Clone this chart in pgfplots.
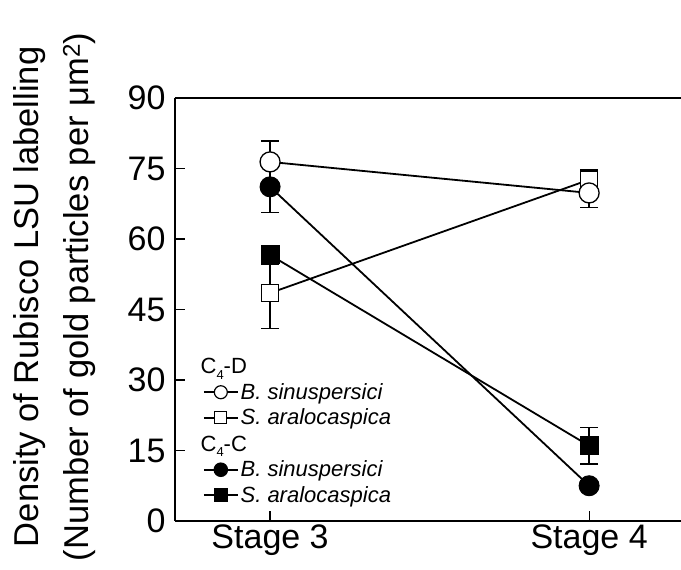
\documentclass[border=0pt]{standalone}
\usepackage{fontspec}
\setmainfont{Liberation Sans}
\usepackage{pgfplots}
\pgfplotsset{compat=1.18}
\newcommand{\sub}[1]{\raisebox{-0.45ex}{\fontsize{13}{13}\selectfont #1}}
\begin{document}
\begin{tikzpicture}
\begin{axis}[
  scale only axis, width=506pt, height=423pt,
  xmin=-0.298, xmax=1.288, ymin=0, ymax=90,
  axis lines=left, axis line style={-, line width=1.2pt},
  xtick={0,1}, xticklabels={Stage 3, Stage 4},
  ytick={0,15,...,90},
  tick align=inside, major tick length=10pt,
  tick style={line width=1.2pt, black},
  /pgf/number format/assume math mode=true,
  ticklabel style={font=\fontsize{34}{40}\selectfont},
  yticklabel style={xshift=-6pt},
  ylabel={Density of Rubisco LSU labelling\\(Number of gold particles per μm\textsuperscript{2})},
  ylabel style={align=center, font=\fontsize{34.5}{50}\selectfont, at={(axis description cs:-0.237,0.53)}, anchor=center},
  legend style={at={(rel axis cs:0.055,0.035)}, anchor=south west, draw=none, fill=none,
    font=\fontsize{22}{26}\selectfont, row sep=4pt, inner sep=0pt},
  legend cell align=left,
  legend image code/.code={\draw[mark repeat=2,mark phase=2,#1] plot coordinates {(0pt,0pt) (17pt,0pt) (34pt,0pt)};},
  every axis plot/.append style={line width=1.8pt, black},
  error bars/error bar style={line width=1.5pt},
  error bars/error mark options={rotate=90, mark size=9pt, line width=1.5pt},
]
% filled circle: B. sinuspersici C4-C
\addplot[forget plot, mark=*, mark size=10pt, mark options={fill=black, line width=1pt},
  error bars/.cd, y dir=both, y explicit]
  coordinates {(0,71.1) +- (0,5.5) (1,7.5) +- (0,1)};
% open square: S. aralocaspica C4-D
\addplot[forget plot, mark=square*, mark size=8.5pt, mark options={fill=white, line width=1.3pt},
  error bars/.cd, y dir=both, y explicit]
  coordinates {(0,48.5) +- (0,7.5) (1,72.6) +- (0,2.1)};
% open circle: B. sinuspersici C4-D
\addplot[forget plot, mark=*, mark size=10pt, mark options={fill=white, line width=1.3pt},
  error bars/.cd, y dir=both, y explicit]
  coordinates {(0,76.4) +- (0,4.5) (1,69.8) +- (0,3.1)};
% filled square: S. aralocaspica C4-C
\addplot[forget plot, mark=square*, mark size=9pt, mark options={fill=black, line width=1pt},
  error bars/.cd, y dir=both, y explicit]
  coordinates {(0,56.6) +- (0,2) (1,16.0) +- (0,3.9)};

\addlegendimage{empty legend}
\addlegendentry{\hspace*{-40pt}\rule[-9pt]{0pt}{24pt}C\sub{4}-D}
\addlegendimage{black, line width=1.6pt, mark=*, mark size=6.5pt, mark options={fill=white, line width=1.2pt}}
\addlegendentry{\rule[-5pt]{0pt}{21pt}\textit{B. sinuspersici}}
\addlegendimage{black, line width=1.6pt, mark=square*, mark size=6pt, mark options={fill=white, line width=1.2pt}}
\addlegendentry{\rule[-5pt]{0pt}{21pt}\textit{S. aralocaspica}}
\addlegendimage{empty legend}
\addlegendentry{\hspace*{-40pt}\rule[-9pt]{0pt}{26pt}C\sub{4}-C}
\addlegendimage{black, line width=1.6pt, mark=*, mark size=6.5pt, mark options={fill=black}}
\addlegendentry{\rule[-5pt]{0pt}{21pt}\textit{B. sinuspersici}}
\addlegendimage{black, line width=1.6pt, mark=square*, mark size=6pt, mark options={fill=black}}
\addlegendentry{\rule[-5pt]{0pt}{21pt}\textit{S. aralocaspica}}

\draw[line width=1.2pt] (rel axis cs:0,1) -- (rel axis cs:1,1);
\coordinate (ll) at (rel axis cs:0,0);
\coordinate (ur) at (rel axis cs:1,1);
\end{axis}
\pgfresetboundingbox
\path ([xshift=-175pt,yshift=-49pt]ll) rectangle ([yshift=98pt]ur);
\end{tikzpicture}
\end{document}
